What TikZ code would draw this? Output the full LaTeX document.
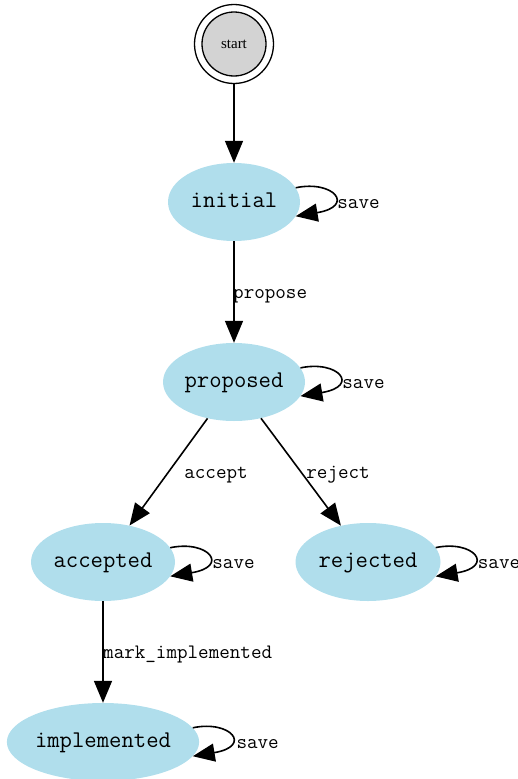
\documentclass[tikz,border=0pt]{standalone}
\usepackage{fontspec}
\newfontfamily\startfont{Liberation Serif}
\newfontfamily\nodefont{Latin Modern Mono}
\usetikzlibrary{arrows.meta,calc,shapes.geometric}
\definecolor{nodeblue}{HTML}{B0DEEC}
\definecolor{startgray}{HTML}{D3D3D3}
\tikzset{
  state/.style={ellipse, fill=nodeblue, draw=none, inner sep=0pt,
    minimum height=78pt, text height=15pt, text depth=4pt,
    font=\nodefont\fontsize{24}{24}\selectfont},
  edgelabel/.style={inner sep=0pt, font=\nodefont\fontsize{20.5}{20.5}\selectfont},
  conn/.style={line width=1.6pt, -{Triangle[length=22pt,width=18pt]}},
}
\begin{document}
\begin{tikzpicture}[x=1pt,y=1pt]
\useasboundingbox (0,0) rectangle (518,-779);
% start node
\node[circle, draw, line width=1.3pt, fill=startgray, minimum size=64pt, inner sep=0pt,
  font=\startfont\fontsize{15}{15}\selectfont] (start) at (234,-44) {start};
\node[circle, draw, line width=1.3pt, minimum size=79pt, inner sep=0pt] (startouter) at (start) {};
% states
\node[state, minimum width=132pt] (initial) at (234,-202) {initial};
\node[state, minimum width=142pt] (proposed) at (234,-382) {proposed};
\node[state, minimum width=144pt] (accepted) at (103,-562) {accepted};
\node[state, minimum width=145pt] (rejected) at (368,-562) {rejected};
\node[state, minimum width=190pt] (implemented) at (103,-742) {implemented};
% edges
\draw[conn] (startouter) -- (initial);
\draw[conn] (initial) -- (proposed);
\draw[conn] (proposed) -- (accepted);
\draw[conn] (proposed) -- (rejected);
\draw[conn] (accepted) -- (implemented);
% edge labels
\node[edgelabel, anchor=base west] (lpropose) at (233,-298) {propose};
\node[edgelabel, anchor=base] (laccept) at (216,-478) {accept};
\node[edgelabel, anchor=base] (lreject) at (338,-478) {reject};
\node[edgelabel, anchor=base west] (lmark) at (103,-658) {mark\_implemented};
% self loops
\foreach \n/\a in {initial/13.8, proposed/12.9, accepted/12.7, rejected/12.7, implemented/9.7}{
  \draw[conn] (\n.\a) .. controls +(38,8) and +(60,10) .. (\n.-\a);
  \node[edgelabel, anchor=base west] (save\n) at ($(\n.east)+(37,-6)$) {save};
}
\end{tikzpicture}
\end{document}
